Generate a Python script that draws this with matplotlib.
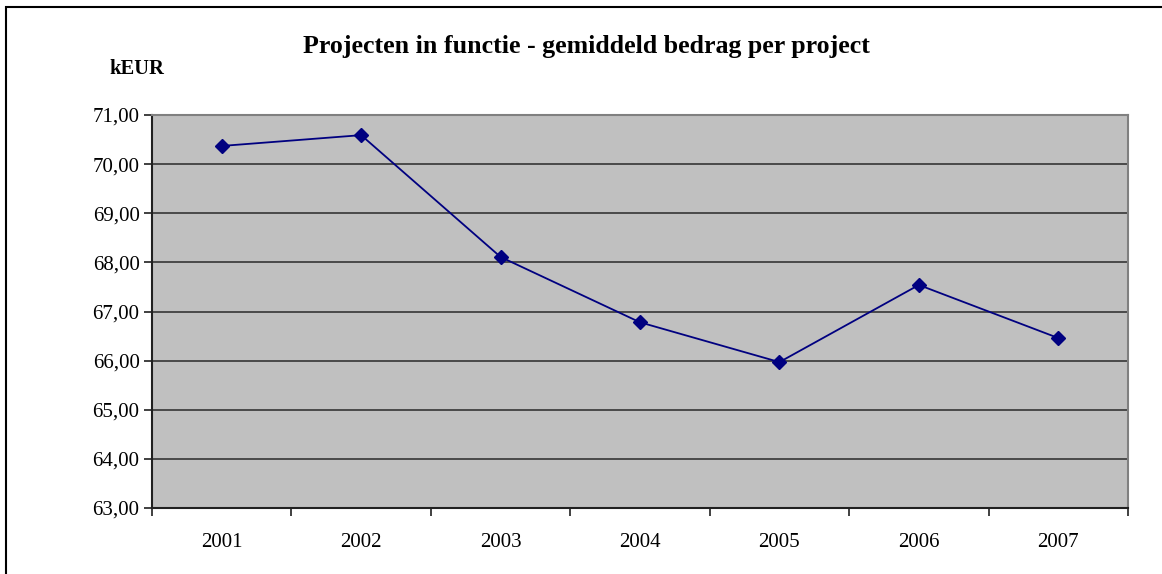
import matplotlib
matplotlib.use("Agg")
import matplotlib.pyplot as plt
from matplotlib.patches import Rectangle
from matplotlib.ticker import FuncFormatter

years = ["2001", "2002", "2003", "2004", "2005", "2006", "2007"]
values = [70.37, 70.59, 68.11, 66.78, 65.97, 67.54, 66.46]
yticks = [63, 64, 65, 66, 67, 68, 69, 70, 71]
title = "Projecten in functie - gemiddeld bedrag per project"
unit = "kEUR"

W, H = 1162, 574
fig = plt.figure(figsize=(W / 100, H / 100), dpi=100)
plt.rcParams['font.family'] = ['Liberation Serif', 'DejaVu Serif']

# outer border (top & left visible)
fig.patches.append(Rectangle((6 / W, -0.1), 1.2, 1 - 7 / H + 0.1, transform=fig.transFigure,
                             fill=False, edgecolor='black', linewidth=1.5))

left, right, top, bottom = 152, 1128, 115, 508
ax = fig.add_axes([left / W, 1 - bottom / H, (right - left) / W, (bottom - top) / H])
ax.set_facecolor('#C0C0C0')

x = list(range(len(years)))
ax.plot(x, values, color='#000080', linewidth=1.3, marker='D', markersize=7.5,
        markerfacecolor='#000080', markeredgecolor='#000080', zorder=3)

ax.set_xlim(-0.5, len(years) - 0.5)
ax.set_ylim(63, 71)
ax.set_yticks(yticks)
ax.yaxis.set_major_formatter(FuncFormatter(lambda v, p: f"{v:.2f}".replace('.', ',')))
ax.grid(axis='y', color='#404040', linewidth=1.3)
ax.set_axisbelow(True)

ax.set_xticks([i - 0.5 for i in range(len(years) + 1)])
ax.set_xticklabels([])
ax.set_xticks(x, minor=True)
ax.set_xticklabels(years, minor=True, fontsize=15)
ax.tick_params(axis='x', which='minor', length=0, pad=18)
ax.tick_params(axis='x', which='major', length=6, width=1.2, color='#202020', direction='out')
ax.tick_params(axis='y', length=6, width=1.2, color='#202020', labelsize=15, pad=3)

for s in ['left', 'bottom']:
    ax.spines[s].set_color('#202020')
    ax.spines[s].set_linewidth(1.5)
for s in ['top', 'right']:
    ax.spines[s].set_color('#808080')
    ax.spines[s].set_linewidth(1.5)

fig.text(586 / W, 1 - 46 / H, title, ha='center', va='center', fontsize=18.6, fontweight='bold')
fig.text(109 / W, 1 - 69 / H, unit, ha='left', va='center', fontsize=14.8, fontweight='bold')

fig.savefig("out.png", dpi=100)
